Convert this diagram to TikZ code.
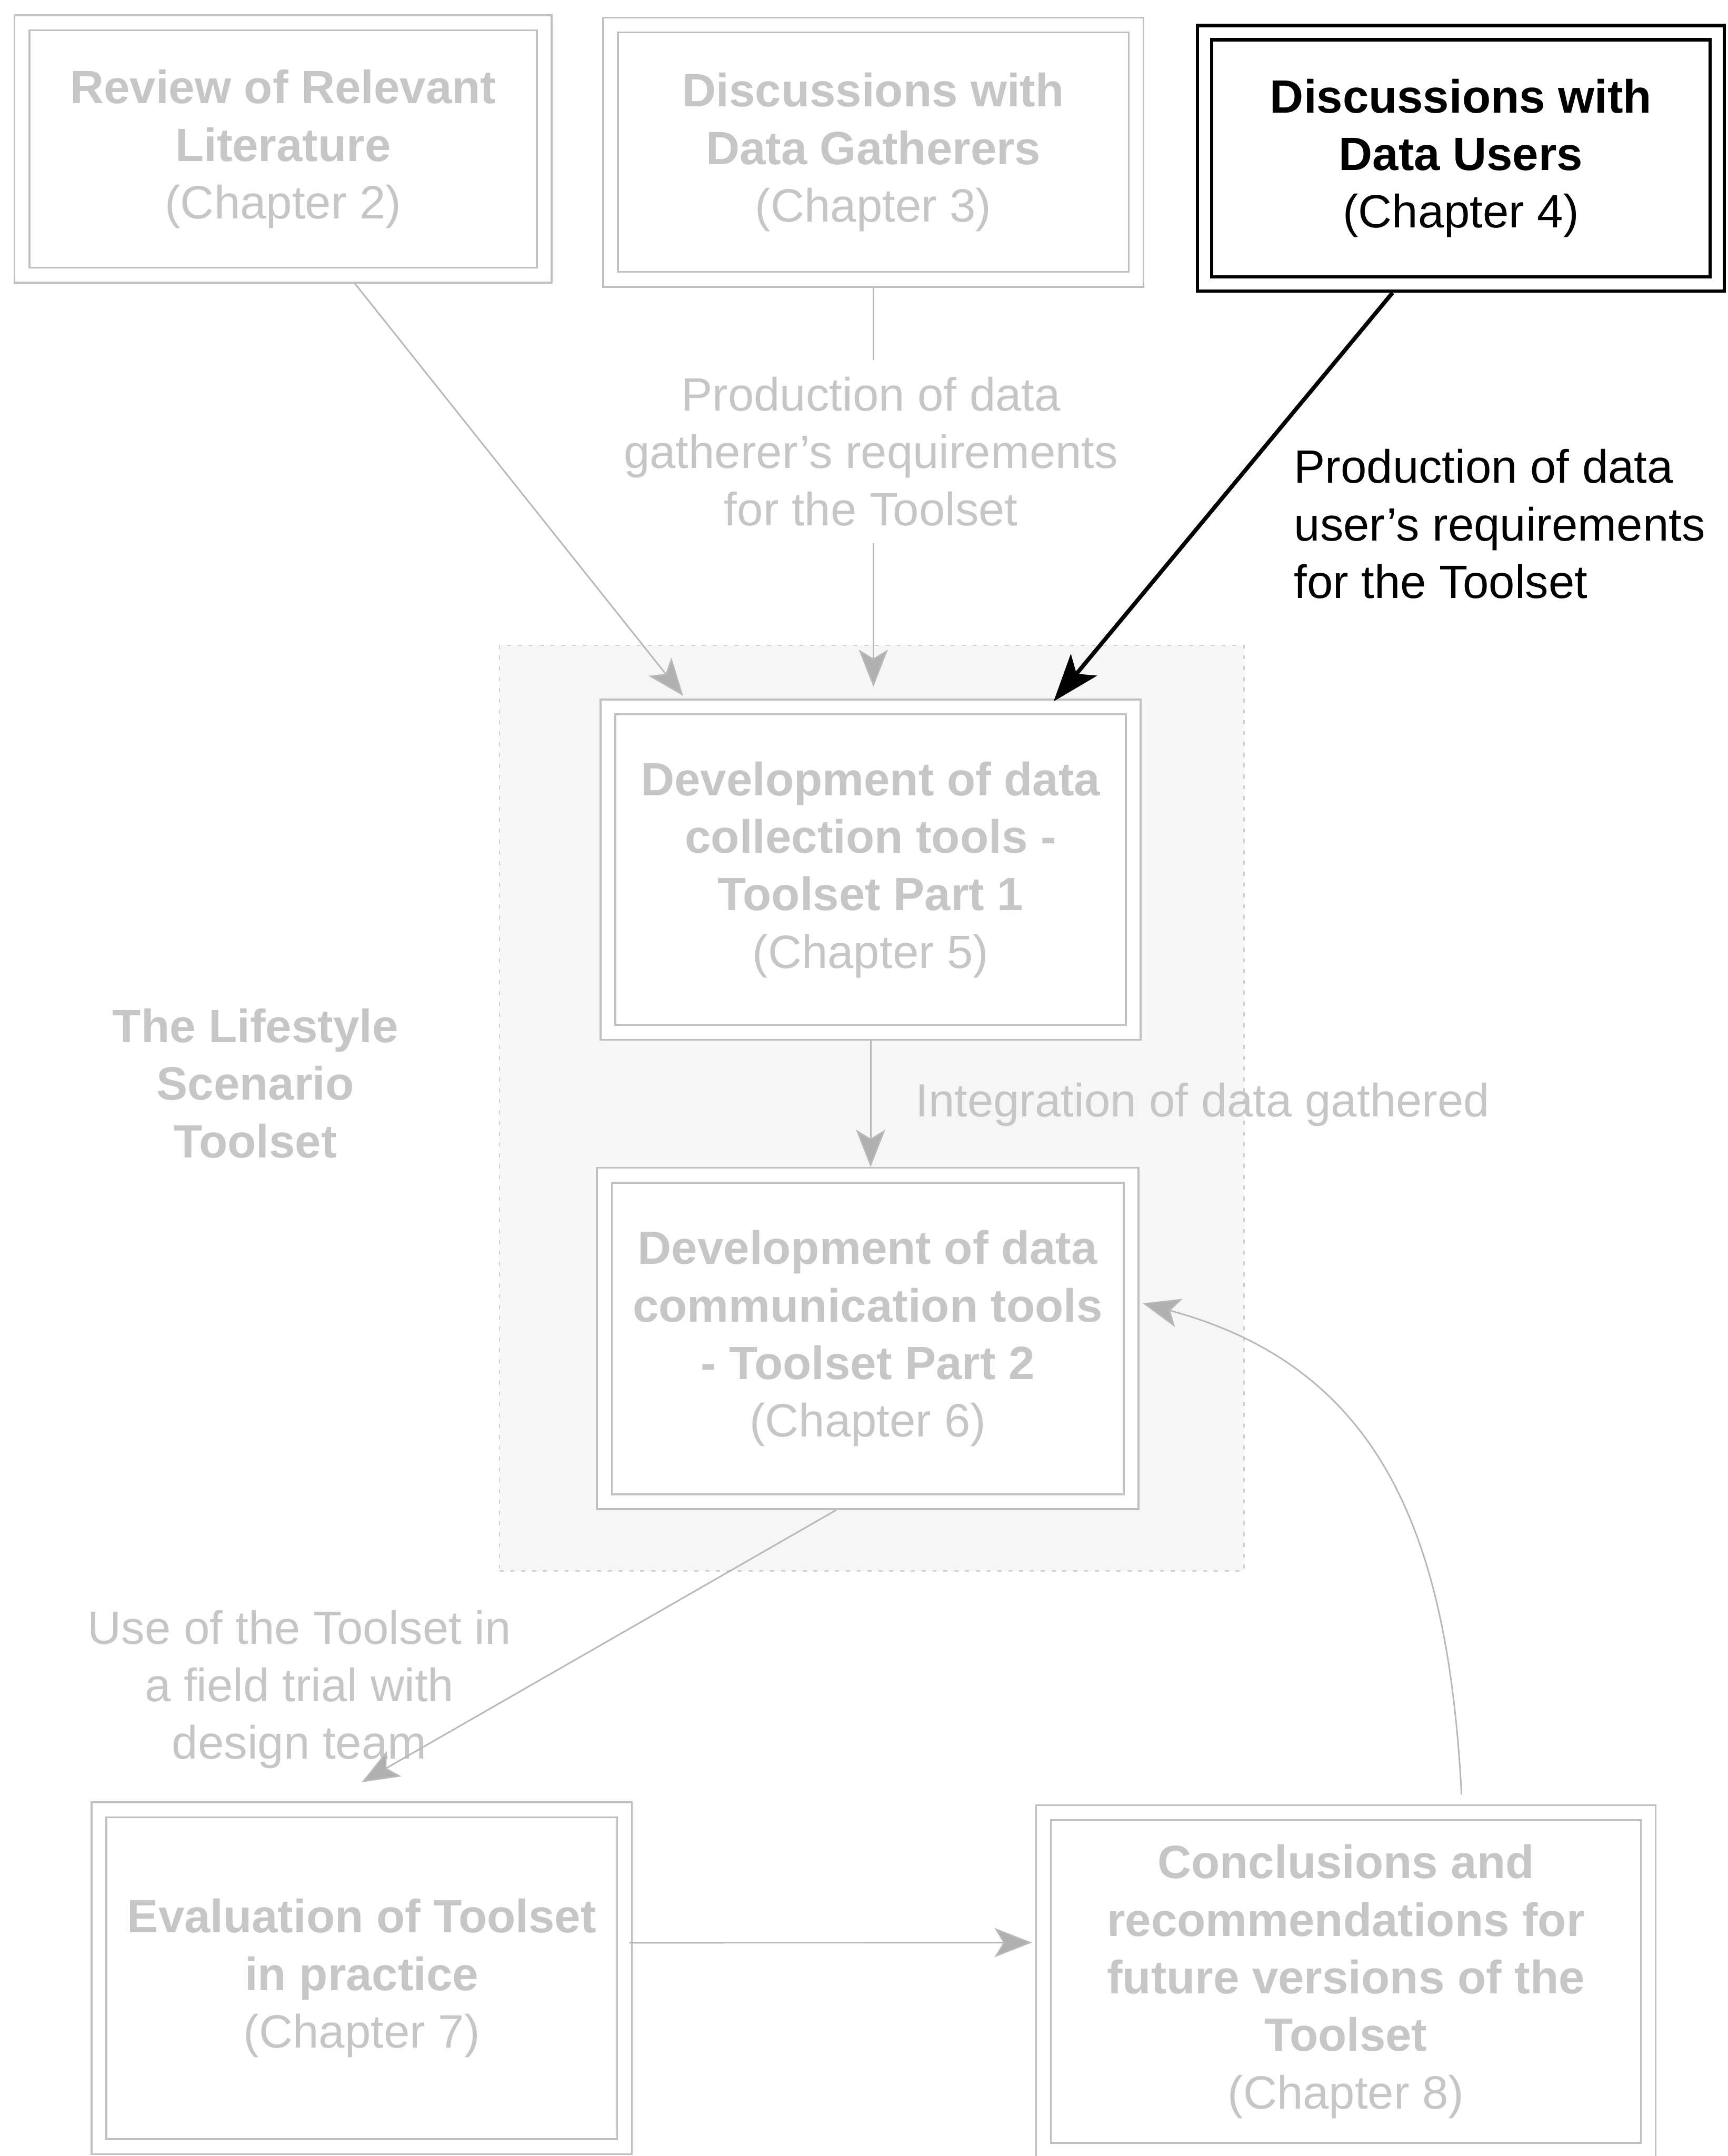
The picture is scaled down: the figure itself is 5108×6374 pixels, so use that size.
\documentclass[tikz,border=0pt]{standalone}
\usepackage{fontspec}
\setmainfont{Liberation Sans}
\usetikzlibrary{arrows.meta,calc}

\definecolor{txtgray}{RGB}{198,198,198}
\definecolor{boxgray}{RGB}{192,192,192}
\definecolor{arrgray}{RGB}{184,184,184}
\definecolor{tipgray}{RGB}{176,176,176}
\definecolor{zonefill}{RGB}{246,246,246}
\definecolor{zoneline}{RGB}{210,210,210}

\begin{document}
\begin{tikzpicture}[
  x=0.1mm, y=0.1mm,
  every node/.style={inner sep=0pt, outer sep=0pt},
  bigfont/.style={font=\fontsize{39.3pt}{48.4pt}\selectfont},
  graybox/.style={bigfont, draw=boxgray, line width=0.55mm, double=white,
    double distance=3.85mm, fill=white, outer sep=2.45mm, align=center, text=txtgray},
  blackbox/.style={bigfont, draw=black, line width=1mm, double=white,
    double distance=3.2mm, fill=white, outer sep=2.6mm, align=center, text=black},
  graylabel/.style={bigfont, text=txtgray},
  grayarrow/.style={draw=arrgray, line width=0.45mm,
    -{Stealth[length=11mm, width=8.6mm, inset=2.6mm, fill=tipgray]}},
  blackarrow/.style={draw=black, line width=1.2mm,
    -{Stealth[length=14mm, width=10mm, inset=3.4mm]}},
  zone/.style={draw=zoneline, fill=zonefill, line width=0.4mm,
    dash pattern=on 1.2mm off 2mm}
]
\useasboundingbox (0,0) rectangle (5108,-6374);
\clip (0,0) rectangle (5108,-6374);
\fill[white] (0,0) rectangle (5108,-6374);

% shaded area grouping the two toolset parts
\node[zone, minimum width=220.1mm, minimum height=273.6mm] (zone) at (2577.5,-3276) {};

% chapter boxes
\node[graybox, minimum width=154.4mm, minimum height=74.6mm] (lit) at (837,-440.5)
  {\textbf{Review of Relevant}\\\textbf{Literature}\\(Chapter 2)};
\node[graybox, minimum width=155.4mm, minimum height=75.2mm] (gath) at (2582,-450)
  {\textbf{Discussions with}\\\textbf{Data Gatherers}\\(Chapter 3)};
\node[blackbox, minimum width=151.5mm, minimum height=74.3mm] (users) at (4319,-468)
  {\textbf{Discussions with}\\\textbf{Data Users}\\(Chapter 4)};
\node[graybox, minimum width=155.3mm, minimum height=96.2mm] (coll) at (2574,-2571)
  {\textbf{Development of data}\\\textbf{collection tools -}\\\textbf{Toolset Part 1}\\(Chapter 5)};
\node[graybox, minimum width=155.7mm, minimum height=96.5mm] (comm) at (2565.5,-3957)
  {\textbf{Development of data}\\\textbf{communication tools}\\\textbf{- Toolset Part 2}\\(Chapter 6)};
\node[graybox, minimum width=155.4mm, minimum height=99.6mm] (eval) at (1069.5,-5848.5)
  {\textbf{Evaluation of Toolset}\\\textbf{in practice}\\(Chapter 7)};
\node[graybox, minimum width=178.8mm, minimum height=99.8mm] (concl) at (3979,-5858)
  {\textbf{Conclusions and}\\\textbf{recommendations for}\\\textbf{future versions of the}\\\textbf{Toolset}\\(Chapter 8)};

% labels that sit beside the connectors
\node[bigfont, align=left, anchor=north west] (userlbl) at (3826,-1328)
  {Production of data\\user’s requirements\\for the Toolset};
\node[graylabel, anchor=base west] (intlbl) at (2707,-3301) {Integration of data gathered};
\node[graylabel, align=center, anchor=north, font=\fontsize{39.3pt}{48.4pt}\selectfont\bfseries]
  (toolset) at (755,-2982) {The Lifestyle\\Scenario\\Toolset};
\node[graylabel, align=center, anchor=north] (uselbl) at (885,-4760)
  {Use of the Toolset in\\a field trial with\\design team};

% connectors
\draw[grayarrow] ([xshift=21.2mm]lit.south) -- ([xshift=-55.4mm, yshift=0.8mm]coll.north);
\draw[grayarrow, shorten >=3.5mm] (gath.south) -- (gath.south |- coll.north);
\draw[blackarrow] ([xshift=-20.2mm]users.south) -- ([xshift=54.1mm, yshift=-0.8mm]coll.north);
\draw[grayarrow] (coll.south) -- (coll.south |- comm.north);
\draw[grayarrow] ([xshift=-9.3mm]comm.south) -- ([yshift=5.7mm]eval.north);
\draw[grayarrow] ([yshift=10.5mm, xshift=-1mm]eval.east) -- ([yshift=11.5mm, xshift=-1mm]concl.west);
\draw[grayarrow] ([xshift=34.2mm, yshift=3mm]concl.north)
  to[out=93, in=-15, looseness=1.1] ([xshift=1mm, yshift=10.4mm]comm.east);

% label set on a white patch over the vertical connector
\node[graylabel, align=center, anchor=north, fill=white, inner ysep=5mm, inner xsep=1mm]
  (gathlbl) at (2575,-1064)
  {Production of data\\gatherer’s requirements\\for the Toolset};
\end{tikzpicture}
\end{document}
